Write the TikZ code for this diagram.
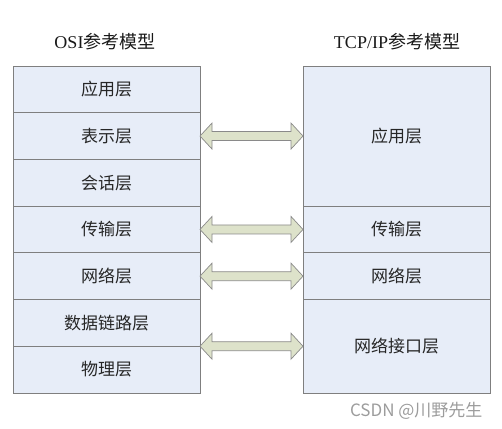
\documentclass[tikz,border=0pt]{standalone}
\usepackage{fontspec}
\setmainfont{Liberation Serif}
\newfontfamily\cjk{Noto Sans CJK SC}
\usetikzlibrary{calc}
\definecolor{boxfill}{HTML}{E7EDF8}
\definecolor{boxline}{HTML}{7F7F7F}
\definecolor{arrfill}{HTML}{DDE2CA}
\definecolor{arrline}{HTML}{8A8A8A}
\definecolor{wm}{HTML}{9C9C9C}
\tikzset{
  layer/.style={draw=boxline, fill=boxfill, line width=0.8pt, minimum width=187pt, outer sep=0pt, inner sep=0pt, font=\fontsize{17}{17}\selectfont\cjk, text=black!85},
  title/.style={font=\fontsize{18}{18}\selectfont, text=black!90},
  dbl/.style={draw=arrline, fill=arrfill, line width=0.7pt, line join=miter}
}
\newcommand\dblarrow[2]{%
  \draw[dbl] let \p1=(#1), \p2=(#2) in
    (\x1,\y1) -- (\x1+12pt,\y1+13pt) -- (\x1+12pt,\y1+4.5pt) -- (\x2-12pt,\y1+4.5pt)
    -- (\x2-12pt,\y1+13pt) -- (\x2,\y1) -- (\x2-12pt,\y1-13pt) -- (\x2-12pt,\y1-4.5pt)
    -- (\x1+12pt,\y1-4.5pt) -- (\x1+12pt,\y1-13pt) -- cycle;}
\begin{document}
\begin{tikzpicture}[x=1pt,y=-1pt]
\useasboundingbox (0,0) rectangle (502,428);
% titles
\node[title] (ot) at (105,42) {OSI{\cjk 参考模型}};
\node[title] (tt) at (397,42) {TCP/IP{\cjk 参考模型}};
% OSI layers
\node[layer, minimum height=46.7pt] (o1) at (106.5,89.35) {应用层};
\node[layer, minimum height=46.7pt] (o2) at (106.5,136.05) {表示层};
\node[layer, minimum height=46.7pt] (o3) at (106.5,182.75) {会话层};
\node[layer, minimum height=46.7pt] (o4) at (106.5,229.45) {传输层};
\node[layer, minimum height=46.7pt] (o5) at (106.5,276.15) {网络层};
\node[layer, minimum height=46.7pt] (o6) at (106.5,322.85) {数据链路层};
\node[layer, minimum height=46.7pt] (o7) at (106.5,369.55) {物理层};
% TCP/IP layers
\node[layer, minimum height=140.1pt] (t1) at (396.5,136.05) {应用层};
\node[layer, minimum height=46.7pt] (t2) at (396.5,229.45) {传输层};
\node[layer, minimum height=46.7pt] (t3) at (396.5,276.15) {网络层};
\node[layer, minimum height=93.4pt] (t4) at (396.5,346.2) {网络接口层};
% arrows
\dblarrow{o2.east}{t1.west}
\dblarrow{o4.east}{t2.west}
\dblarrow{o5.east}{t3.west}
\dblarrow{o6.south east}{t4.west}
% watermark
\node[font=\fontsize{17}{17}\selectfont\cjk, text=wm, anchor=east] (wmk) at (486,411) {CSDN @川野先生};
\end{tikzpicture}
\end{document}
